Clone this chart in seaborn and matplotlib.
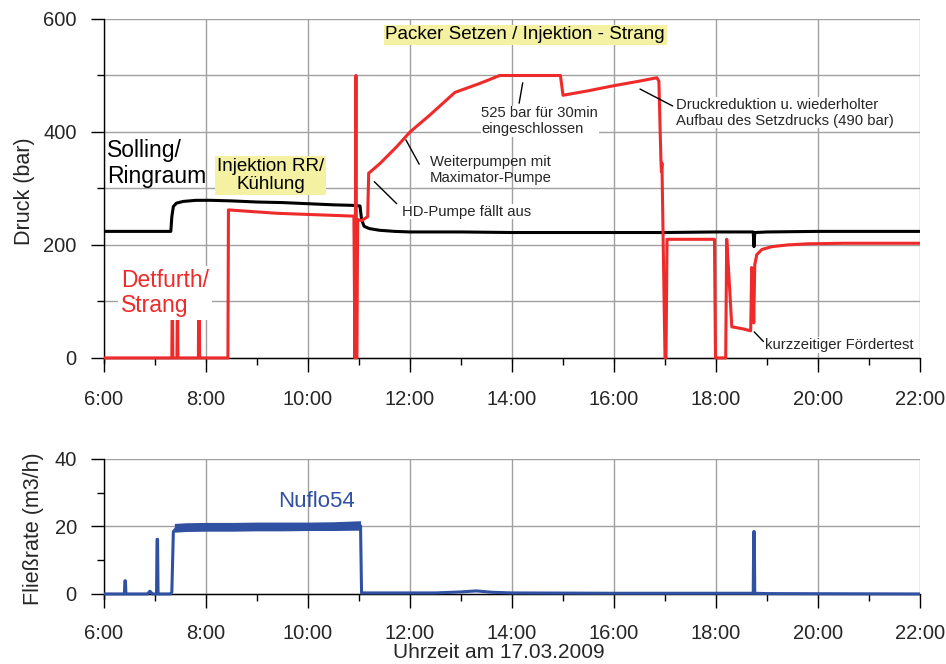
import matplotlib
matplotlib.use("Agg")
import matplotlib.pyplot as plt
import seaborn as sns
import pandas as pd
from matplotlib.ticker import MultipleLocator

# ---------------- data (time in hours of 17.03.2009) ----------------
ring_time = [6.0, 7.31, 7.33, 7.36, 7.42, 7.55, 7.8, 8.1, 8.5, 9.0, 9.5, 10.0, 10.5,
             10.9, 11.02, 11.05, 11.1, 11.2, 11.4, 11.7, 12.0, 13.0, 14.0, 15.0, 16.0,
             17.0, 18.0, 18.73, 18.745, 18.76, 19.0, 20.0, 21.0, 22.0]
ring_bar = [224, 224, 250, 268, 274, 277, 279, 279, 278, 276, 275, 273, 271,
            270, 269, 245, 233, 229, 226, 224, 223, 223, 222, 222, 222,
            222, 223, 223, 197, 222, 223, 224, 224, 224]

strang_time = [6.0, 7.33, 7.335, 7.345, 7.35, 7.43, 7.435, 7.445, 7.45, 7.85, 7.855, 7.87,
               7.875, 8.43, 8.44, 9.4, 10.9, 10.92, 10.94, 10.955, 10.975, 11.05, 11.17,
               11.19, 11.41, 11.74, 12.0, 12.39, 12.88, 13.37, 13.76, 14.95, 15.0, 15.5,
               16.0, 16.5, 16.84, 16.88, 16.92, 16.93, 16.94, 17.0, 17.02, 17.04, 17.97,
               17.99, 18.19, 18.21, 18.25, 18.31, 18.5, 18.68, 18.7, 18.72, 18.74, 18.76,
               18.8, 18.9, 19.1, 19.4, 19.8, 20.5, 21.0, 22.0]
strang_bar = [0, 0, 67, 67, 0, 0, 67, 67, 0, 0, 67, 67,
              0, 0, 262, 256, 251, 0, 500, 0, 245, 243, 250,
              327, 344, 374, 400, 430, 470, 486, 500, 500, 465, 473,
              482, 490, 496, 490, 350, 330, 345, 0, 0, 210, 210,
              0, 0, 210, 150, 55, 52, 48, 160, 150, 62, 165,
              183, 192, 197, 200, 202, 203, 203, 203]

flow_time = [6.0, 6.40, 6.41, 6.42, 6.43, 6.85, 6.9, 6.95, 7.03, 7.04, 7.05, 7.06, 7.3,
             7.33, 7.36, 7.42, 8.0, 9.0, 10.0, 11.0, 11.03, 11.05, 11.2, 12.5, 13.0,
             13.3, 13.6, 14.0, 16.0, 18.0, 18.73, 18.74, 18.75, 18.76, 19.0, 22.0]
flow_rate = [0, 0, 3.9, 3.9, 0, 0, 0.8, 0, 0, 16.2, 16.2, 0, 0,
             0.5, 18.5, 19.5, 19.8, 19.9, 20.0, 20.2, 20.2, 0.3, 0.3, 0.3, 0.6,
             0.9, 0.5, 0.3, 0.2, 0.2, 0.2, 18.5, 18.5, 0.2, 0.1, 0.0]

band_time = [7.38, 7.6, 8.0, 8.5, 9.0, 9.5, 10.0, 10.5, 11.03]
band_low = [18.3, 18.5, 18.6, 18.6, 18.7, 18.7, 18.8, 18.8, 18.9]
band_high = [20.9, 21.1, 21.2, 21.2, 21.3, 21.3, 21.3, 21.4, 21.7]

x_ticks = [6, 8, 10, 12, 14, 16, 18, 20, 22]
x_tick_labels = ["6:00", "8:00", "10:00", "12:00", "14:00", "16:00", "18:00", "20:00", "22:00"]
p_ticks = [0, 200, 400, 600]
q_ticks = [0, 20, 40]

# ---------------- style ----------------
sns.set_style("white")
plt.rcParams['font.family'] = ['Liberation Sans', 'DejaVu Sans']

RED = "#EE2A2A"
BLUE = "#3050A2"
YELLOW = "#F4F1A2"
GRID = "#A0A0A0"

fig = plt.figure(figsize=(9.46, 6.64), dpi=100)
ax1 = fig.add_axes([104/946, 1-363/664, 816/946, 344/664])
ax2 = fig.add_axes([104/946, 1-599/664, 816/946, 140/664])


def style_axes(ax, ymin, ymax, ticks, ymajor_grid_minor, xpad):
    ax.set_xlim(6, 22)
    ax.set_ylim(ymin, ymax)
    ax.set_xticks(x_ticks, labels=x_tick_labels)
    ax.xaxis.set_minor_locator(MultipleLocator(1))
    ax.set_yticks(ticks, labels=[str(t) for t in ticks])
    ax.yaxis.set_minor_locator(MultipleLocator(ticks[1] / 2))
    for s in ("top", "right"):
        ax.spines[s].set_visible(False)
    for s in ("left", "bottom"):
        ax.spines[s].set_color("black")
        ax.spines[s].set_linewidth(1.0)
    ax.spines["bottom"].set_position(("data", 0))
    ax.tick_params(axis="x", which="major", length=10, width=1.0, color="black",
                   labelsize=14.5, pad=xpad, direction="out")
    ax.tick_params(axis="x", which="minor", length=5, width=1.0, color="black",
                   direction="out")
    ax.tick_params(axis="y", which="major", length=9.6, width=1.0, color="black",
                   labelsize=14.5, pad=10, direction="out")
    ax.tick_params(axis="y", which="minor", length=5, width=1.0, color="black",
                   direction="out")
    ax.tick_params(left=True, bottom=True, which="both")
    ax.grid(False)
    ax.xaxis.grid(True, which="major", color=GRID, linewidth=1.0)
    ax.yaxis.grid(True, which="both" if ymajor_grid_minor else "major",
                  color=GRID, linewidth=1.0)
    ax.set_axisbelow(True)


style_axes(ax1, -9, 600, p_ticks, True, 13)
style_axes(ax2, -1.5, 40, q_ticks, False, 12)

# ---------------- lines ----------------
df_ring = pd.DataFrame({"t": ring_time, "p": ring_bar})
df_strang = pd.DataFrame({"t": strang_time, "p": strang_bar})
df_flow = pd.DataFrame({"t": flow_time, "q": flow_rate})

sns.lineplot(data=df_ring, x="t", y="p", ax=ax1, color="black", linewidth=2.2,
             estimator=None, sort=False, zorder=3)
sns.lineplot(data=df_strang, x="t", y="p", ax=ax1, color=RED, linewidth=2.2,
             estimator=None, sort=False, zorder=4)
ax2.fill_between(band_time, band_low, band_high, color=BLUE, linewidth=0, zorder=3)
sns.lineplot(data=df_flow, x="t", y="q", ax=ax2, color=BLUE, linewidth=2.2,
             estimator=None, sort=False, zorder=4)

# ---------------- labels ----------------
ax1.set_xlabel("")
ax1.set_ylabel("Druck (bar)", fontsize=15.5)
ax1.yaxis.set_label_coords(-0.085, 0.5)
ax2.set_ylabel("Fließrate (m3/h)", fontsize=15.5)
ax2.yaxis.set_label_coords(-0.074, 0.5)
ax2.set_xlabel("Uhrzeit am 17.03.2009", fontsize=15)
ax2.xaxis.set_label_coords(0.484, -0.315)

# ---------------- annotations ----------------
ax1.text(6.06, 344, "Solling/\nRingraum", fontsize=16.5, color="black",
         ha="left", va="center", linespacing=1.15, zorder=5)
ax1.text(6.33, 115, "Detfurth/\nStrang", fontsize=16.5, color=RED,
         ha="left", va="center", linespacing=1.15, zorder=5,
         bbox=dict(facecolor="white", edgecolor="none", pad=2))
ax1.text(9.27, 323, "Injektion RR/\nKühlung", fontsize=13.5, color="black",
         ha="center", va="center", linespacing=1.1, zorder=5,
         bbox=dict(facecolor=YELLOW, edgecolor="none", pad=1.5))
ax1.text(14.26, 572, "Packer Setzen / Injektion - Strang", fontsize=13.5, color="black",
         ha="center", va="center", zorder=5,
         bbox=dict(facecolor=YELLOW, edgecolor="none", pad=1.2))

small = 10.7
ax1.text(13.40, 419, "525 bar für 30min\neingeschlossen", fontsize=small,
         ha="left", va="center", linespacing=1.15, zorder=5,
         bbox=dict(facecolor="white", edgecolor="none", pad=0.5))
ax1.text(12.39, 333, "Weiterpumpen mit\nMaximator-Pumpe", fontsize=small,
         ha="left", va="center", linespacing=1.15, zorder=5)
ax1.text(11.84, 259, "HD-Pumpe fällt aus", fontsize=small,
         ha="left", va="center", zorder=5,
         bbox=dict(facecolor="white", edgecolor="none", pad=0.5))
ax1.text(17.22, 434, "Druckreduktion u. wiederholter\nAufbau des Setzdrucks (490 bar)",
         fontsize=small, ha="left", va="center", linespacing=1.15, zorder=5,
         bbox=dict(facecolor="white", edgecolor="none", pad=0.5))
ax1.text(18.97, 23, "kurzzeitiger Fördertest", fontsize=small,
         ha="left", va="center", zorder=5,
         bbox=dict(facecolor="white", edgecolor="none", pad=0.5))

leaders = [((14.21, 487), (14.14, 451)),
           ((11.92, 386), (12.18, 343)),
           ((11.30, 312), (11.74, 273)),
           ((16.51, 476), (17.15, 446)),
           ((18.75, 46), (18.93, 29))]
for a, b in leaders:
    ax1.annotate("", xy=a, xytext=b,
                 arrowprops=dict(arrowstyle="-", color="black", lw=1.0,
                                 shrinkA=0, shrinkB=0), zorder=6)

ax2.text(10.17, 27.5, "Nuflo54", fontsize=16, color=BLUE, ha="center", va="center",
         zorder=5)

fig.savefig("out.png", dpi=100)
